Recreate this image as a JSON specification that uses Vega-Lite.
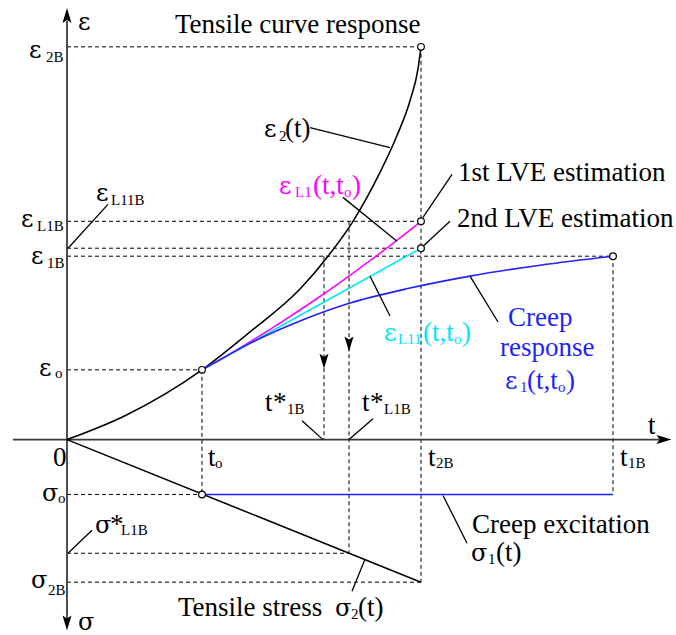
{
  "$schema": "https://vega.github.io/schema/vega-lite/v6.json",
  "width": 676,
  "height": 635,
  "autosize": {"type": "fit", "contains": "padding"},
  "padding": 0,
  "background": "white",
  "config": {"view": {"stroke": null}},
  "datasets": {
    "lines": [
      {"id": "ax-y", "part": "axis", "grp": "axis", "o": 1, "t": 0, "v": 420},
      {"id": "ax-y", "part": "axis", "grp": "axis", "o": 2, "t": 0, "v": -180},
      {"id": "ax-x", "part": "axis", "grp": "axis", "o": 1, "t": -54, "v": 0},
      {"id": "ax-x", "part": "axis", "grp": "axis", "o": 2, "t": 592, "v": 0},

      {"id": "eps2", "part": "curve", "grp": "ink", "o": 1, "t": 0, "v": 0},
      {"id": "eps2", "part": "curve", "grp": "ink", "o": 2, "t": 58, "v": 24},
      {"id": "eps2", "part": "curve", "grp": "ink", "o": 3, "t": 135, "v": 70},
      {"id": "eps2", "part": "curve", "grp": "ink", "o": 4, "t": 183, "v": 108},
      {"id": "eps2", "part": "curve", "grp": "ink", "o": 5, "t": 233, "v": 151},
      {"id": "eps2", "part": "curve", "grp": "ink", "o": 6, "t": 261, "v": 184},
      {"id": "eps2", "part": "curve", "grp": "ink", "o": 7, "t": 286, "v": 219},
      {"id": "eps2", "part": "curve", "grp": "ink", "o": 8, "t": 313, "v": 268},
      {"id": "eps2", "part": "curve", "grp": "ink", "o": 9, "t": 330, "v": 305},
      {"id": "eps2", "part": "curve", "grp": "ink", "o": 10, "t": 343, "v": 340},
      {"id": "eps2", "part": "curve", "grp": "ink", "o": 11, "t": 351, "v": 372},
      {"id": "eps2", "part": "curve", "grp": "ink", "o": 12, "t": 354, "v": 394},

      {"id": "sig2", "part": "curve", "grp": "ink", "o": 1, "t": 0, "v": 0},
      {"id": "sig2", "part": "curve", "grp": "ink", "o": 2, "t": 354, "v": -143},

      {"id": "sig1", "part": "curve", "grp": "creep", "o": 1, "t": 135, "v": -55},
      {"id": "sig1", "part": "curve", "grp": "creep", "o": 2, "t": 546, "v": -55},

      {"id": "epsL1", "part": "curve", "grp": "lve1", "o": 1, "t": 135, "v": 70},
      {"id": "epsL1", "part": "curve", "grp": "lve1", "o": 2, "t": 162.4, "v": 85.7},
      {"id": "epsL1", "part": "curve", "grp": "lve1", "o": 3, "t": 189.8, "v": 102.2},
      {"id": "epsL1", "part": "curve", "grp": "lve1", "o": 4, "t": 217.1, "v": 119.6},
      {"id": "epsL1", "part": "curve", "grp": "lve1", "o": 5, "t": 244.5, "v": 137.8},
      {"id": "epsL1", "part": "curve", "grp": "lve1", "o": 6, "t": 271.9, "v": 156.8},
      {"id": "epsL1", "part": "curve", "grp": "lve1", "o": 7, "t": 299.3, "v": 176.7},
      {"id": "epsL1", "part": "curve", "grp": "lve1", "o": 8, "t": 326.6, "v": 197.4},
      {"id": "epsL1", "part": "curve", "grp": "lve1", "o": 9, "t": 354, "v": 219},

      {"id": "epsL11", "part": "curve", "grp": "lve2", "o": 1, "t": 135, "v": 70},
      {"id": "epsL11", "part": "curve", "grp": "lve2", "o": 2, "t": 244.5, "v": 131},
      {"id": "epsL11", "part": "curve", "grp": "lve2", "o": 3, "t": 354, "v": 192},

      {"id": "eps1", "part": "curve", "grp": "creep", "o": 1, "t": 135, "v": 70},
      {"id": "eps1", "part": "curve", "grp": "creep", "o": 2, "t": 160, "v": 84},
      {"id": "eps1", "part": "curve", "grp": "creep", "o": 3, "t": 183, "v": 96.5},
      {"id": "eps1", "part": "curve", "grp": "creep", "o": 4, "t": 233, "v": 119},
      {"id": "eps1", "part": "curve", "grp": "creep", "o": 5, "t": 283, "v": 137},
      {"id": "eps1", "part": "curve", "grp": "creep", "o": 6, "t": 343, "v": 152},
      {"id": "eps1", "part": "curve", "grp": "creep", "o": 7, "t": 403, "v": 164},
      {"id": "eps1", "part": "curve", "grp": "creep", "o": 8, "t": 473, "v": 175},
      {"id": "eps1", "part": "curve", "grp": "creep", "o": 9, "t": 546, "v": 184},

      {"id": "l-e2", "part": "leader", "grp": "ink", "o": 1, "t": 243, "v": 313},
      {"id": "l-e2", "part": "leader", "grp": "ink", "o": 2, "t": 323, "v": 293},
      {"id": "l-eL1", "part": "leader", "grp": "ink", "o": 1, "t": 276, "v": 243},
      {"id": "l-eL1", "part": "leader", "grp": "ink", "o": 2, "t": 330, "v": 199},
      {"id": "l-1st", "part": "leader", "grp": "ink", "o": 1, "t": 356, "v": 223},
      {"id": "l-1st", "part": "leader", "grp": "ink", "o": 2, "t": 385, "v": 266},
      {"id": "l-2nd", "part": "leader", "grp": "ink", "o": 1, "t": 356, "v": 194},
      {"id": "l-2nd", "part": "leader", "grp": "ink", "o": 2, "t": 383, "v": 219},
      {"id": "l-eL11", "part": "leader", "grp": "ink", "o": 1, "t": 303, "v": 164},
      {"id": "l-eL11", "part": "leader", "grp": "ink", "o": 2, "t": 323, "v": 124},
      {"id": "l-creep", "part": "leader", "grp": "ink", "o": 1, "t": 403, "v": 164},
      {"id": "l-creep", "part": "leader", "grp": "ink", "o": 2, "t": 431, "v": 118},
      {"id": "l-eL11B", "part": "leader", "grp": "ink", "o": 1, "t": 1, "v": 192},
      {"id": "l-eL11B", "part": "leader", "grp": "ink", "o": 2, "t": 41, "v": 236},
      {"id": "l-sL1B", "part": "leader", "grp": "ink", "o": 1, "t": 1, "v": -114},
      {"id": "l-sL1B", "part": "leader", "grp": "ink", "o": 2, "t": 25, "v": -91},
      {"id": "l-t1B", "part": "leader", "grp": "ink", "o": 1, "t": 235, "v": 19},
      {"id": "l-t1B", "part": "leader", "grp": "ink", "o": 2, "t": 256, "v": 0},
      {"id": "l-tL1B", "part": "leader", "grp": "ink", "o": 1, "t": 282, "v": 0},
      {"id": "l-tL1B", "part": "leader", "grp": "ink", "o": 2, "t": 306, "v": 21},
      {"id": "l-exc", "part": "leader", "grp": "ink", "o": 1, "t": 376, "v": -56},
      {"id": "l-exc", "part": "leader", "grp": "ink", "o": 2, "t": 400, "v": -104},
      {"id": "l-s2", "part": "leader", "grp": "ink", "o": 1, "t": 285, "v": -152},
      {"id": "l-s2", "part": "leader", "grp": "ink", "o": 2, "t": 298, "v": -120},

      {"id": "d1", "part": "dashed", "grp": "ink", "o": 1, "t": 0, "v": 394},
      {"id": "d1", "part": "dashed", "grp": "ink", "o": 2, "t": 354, "v": 394},
      {"id": "d2", "part": "dashed", "grp": "ink", "o": 1, "t": 354, "v": 394},
      {"id": "d2", "part": "dashed", "grp": "ink", "o": 2, "t": 354, "v": -143},
      {"id": "d3", "part": "dashed", "grp": "ink", "o": 1, "t": 0, "v": 219},
      {"id": "d3", "part": "dashed", "grp": "ink", "o": 2, "t": 354, "v": 219},
      {"id": "d4", "part": "dashed", "grp": "ink", "o": 1, "t": 0, "v": 192},
      {"id": "d4", "part": "dashed", "grp": "ink", "o": 2, "t": 354, "v": 192},
      {"id": "d5", "part": "dashed", "grp": "ink", "o": 1, "t": 0, "v": 184},
      {"id": "d5", "part": "dashed", "grp": "ink", "o": 2, "t": 546, "v": 184},
      {"id": "d6", "part": "dashed", "grp": "ink", "o": 1, "t": 546, "v": 184},
      {"id": "d6", "part": "dashed", "grp": "ink", "o": 2, "t": 546, "v": -55},
      {"id": "d7", "part": "dashed", "grp": "ink", "o": 1, "t": 0, "v": 70},
      {"id": "d7", "part": "dashed", "grp": "ink", "o": 2, "t": 135, "v": 70},
      {"id": "d8", "part": "dashed", "grp": "ink", "o": 1, "t": 135, "v": 70},
      {"id": "d8", "part": "dashed", "grp": "ink", "o": 2, "t": 135, "v": -55},
      {"id": "d9", "part": "dashed", "grp": "ink", "o": 1, "t": 0, "v": -55},
      {"id": "d9", "part": "dashed", "grp": "ink", "o": 2, "t": 135, "v": -55},
      {"id": "d10", "part": "dashed", "grp": "ink", "o": 1, "t": 0, "v": -114},
      {"id": "d10", "part": "dashed", "grp": "ink", "o": 2, "t": 282, "v": -114},
      {"id": "d11", "part": "dashed", "grp": "ink", "o": 1, "t": 282, "v": 219},
      {"id": "d11", "part": "dashed", "grp": "ink", "o": 2, "t": 282, "v": -114},
      {"id": "d12", "part": "dashed", "grp": "ink", "o": 1, "t": 257, "v": 184},
      {"id": "d12", "part": "dashed", "grp": "ink", "o": 2, "t": 257, "v": 0},
      {"id": "d13", "part": "dashed", "grp": "ink", "o": 1, "t": 0, "v": -143},
      {"id": "d13", "part": "dashed", "grp": "ink", "o": 2, "t": 354, "v": -143}
    ],
    "marks": [
      {"sym": "ring", "t": 135, "v": 70},
      {"sym": "ring", "t": 354, "v": 394},
      {"sym": "ring", "t": 354, "v": 219},
      {"sym": "ring", "t": 354, "v": 192},
      {"sym": "ring", "t": 546, "v": 184},
      {"sym": "ring", "t": 135, "v": -55},
      {"sym": "up", "t": 0, "v": 425.5},
      {"sym": "down", "t": 0, "v": -184},
      {"sym": "right", "t": 597, "v": 0},
      {"sym": "tick", "t": 257, "v": 78.5},
      {"sym": "tick", "t": 282, "v": 96}
    ],
    "labels": [
      {"txt": "ε", "t": 11, "v": 411, "role": "greek", "grp": "ink"},
      {"txt": "ε", "t": -38, "v": 383, "role": "greek", "grp": "ink"},
      {"txt": "2B", "t": -21, "v": 379, "role": "sub", "grp": "ink"},
      {"txt": "Tensile curve response", "t": 108, "v": 408, "role": "main", "grp": "ink"},
      {"txt": "ε", "t": 197, "v": 304, "role": "greek", "grp": "ink"},
      {"txt": "2", "t": 212, "v": 300, "role": "sub", "grp": "ink"},
      {"txt": "(t)", "t": 218, "v": 304, "role": "main", "grp": "ink"},
      {"txt": "1st LVE estimation", "t": 391, "v": 259, "role": "main", "grp": "ink"},
      {"txt": "2nd LVE estimation", "t": 390, "v": 213, "role": "main", "grp": "ink"},
      {"txt": "ε", "t": -46, "v": 213, "role": "greek", "grp": "ink"},
      {"txt": "L1B", "t": -30, "v": 209, "role": "sub", "grp": "ink"},
      {"txt": "ε", "t": 29, "v": 239, "role": "greek", "grp": "ink"},
      {"txt": "L11B", "t": 44, "v": 235, "role": "sub", "grp": "ink"},
      {"txt": "ε", "t": -36, "v": 176, "role": "greek", "grp": "ink"},
      {"txt": "1B", "t": -20, "v": 172, "role": "sub", "grp": "ink"},
      {"txt": "ε", "t": -28, "v": 64, "role": "greek", "grp": "ink"},
      {"txt": "o", "t": -12, "v": 62, "role": "sub", "grp": "ink"},
      {"txt": "0", "t": -14, "v": -26, "role": "main", "grp": "ink"},
      {"txt": "t", "t": 141, "v": -26, "role": "main", "grp": "ink"},
      {"txt": "o", "t": 148, "v": -28, "role": "sub", "grp": "ink"},
      {"txt": "t", "t": 361, "v": -26, "role": "main", "grp": "ink"},
      {"txt": "2B", "t": 369, "v": -28, "role": "sub", "grp": "ink"},
      {"txt": "t", "t": 553, "v": -26, "role": "main", "grp": "ink"},
      {"txt": "1B", "t": 561, "v": -28, "role": "sub", "grp": "ink"},
      {"txt": "t", "t": 581, "v": 6, "role": "main", "grp": "ink"},
      {"txt": "t", "t": 198, "v": 29, "role": "main", "grp": "ink"},
      {"txt": "*", "t": 206, "v": 29, "role": "main", "grp": "ink"},
      {"txt": "1B", "t": 220, "v": 26, "role": "sub", "grp": "ink"},
      {"txt": "t", "t": 295, "v": 29, "role": "main", "grp": "ink"},
      {"txt": "*", "t": 303, "v": 29, "role": "main", "grp": "ink"},
      {"txt": "L1B", "t": 317, "v": 26, "role": "sub", "grp": "ink"},
      {"txt": "σ", "t": -25, "v": -62, "role": "greek", "grp": "ink"},
      {"txt": "o", "t": -9, "v": -64, "role": "sub", "grp": "ink"},
      {"txt": "σ", "t": 28, "v": -94, "role": "greek", "grp": "ink"},
      {"txt": "*", "t": 43, "v": -94, "role": "main", "grp": "ink"},
      {"txt": "L1B", "t": 54, "v": -96, "role": "sub", "grp": "ink"},
      {"txt": "σ", "t": -36, "v": -149, "role": "greek", "grp": "ink"},
      {"txt": "2B", "t": -19, "v": -156, "role": "sub", "grp": "ink"},
      {"txt": "σ", "t": 11, "v": -191, "role": "greek", "grp": "ink"},
      {"txt": "Tensile stress", "t": 111, "v": -177, "role": "main", "grp": "ink"},
      {"txt": "σ", "t": 268, "v": -177, "role": "greek", "grp": "ink"},
      {"txt": "2", "t": 284, "v": -180, "role": "sub", "grp": "ink"},
      {"txt": "(t)", "t": 291, "v": -177, "role": "main", "grp": "ink"},
      {"txt": "Creep excitation", "t": 405, "v": -94, "role": "main", "grp": "ink"},
      {"txt": "σ", "t": 404, "v": -122, "role": "greek", "grp": "ink"},
      {"txt": "1", "t": 421, "v": -125, "role": "sub", "grp": "ink"},
      {"txt": "(t)", "t": 429, "v": -122, "role": "main", "grp": "ink"},
      {"txt": "ε", "t": 212, "v": 246, "role": "greek", "grp": "lve1"},
      {"txt": "L1", "t": 228, "v": 243, "role": "sub", "grp": "lve1"},
      {"txt": "(t,t", "t": 246, "v": 246, "role": "main", "grp": "lve1"},
      {"txt": "o", "t": 277, "v": 243, "role": "sub", "grp": "lve1"},
      {"txt": ")", "t": 285, "v": 246, "role": "main", "grp": "lve1"},
      {"txt": "ε", "t": 317, "v": 99, "role": "greek", "grp": "lve2"},
      {"txt": "L11", "t": 331, "v": 96, "role": "sub", "grp": "lve2"},
      {"txt": "(t,t", "t": 356, "v": 99, "role": "main", "grp": "lve2"},
      {"txt": "o", "t": 387, "v": 96, "role": "sub", "grp": "lve2"},
      {"txt": ")", "t": 395, "v": 99, "role": "main", "grp": "lve2"},
      {"txt": "Creep", "t": 441, "v": 114, "role": "main", "grp": "creep"},
      {"txt": "response", "t": 433, "v": 84, "role": "main", "grp": "creep"},
      {"txt": "ε", "t": 438, "v": 51, "role": "greek", "grp": "creep"},
      {"txt": "1", "t": 453, "v": 48, "role": "sub", "grp": "creep"},
      {"txt": "(t,t", "t": 460, "v": 51, "role": "main", "grp": "creep"},
      {"txt": "o", "t": 491, "v": 48, "role": "sub", "grp": "creep"},
      {"txt": ")", "t": 499, "v": 51, "role": "main", "grp": "creep"}
    ]
  },
  "encoding": {
    "x": {"field": "t", "type": "quantitative", "scale": {"domain": [-67, 609], "nice": false, "zero": false}, "axis": null},
    "y": {"field": "v", "type": "quantitative", "scale": {"domain": [-194, 441], "nice": false, "zero": false}, "axis": null}
  },
  "layer": [
    {
      "data": {"name": "lines"},
      "transform": [{"filter": "datum.part == 'dashed'"}],
      "mark": {"type": "line", "color": "#000000", "strokeWidth": 1, "strokeDash": [4, 3]},
      "encoding": {
        "detail": {"field": "id", "type": "nominal"},
        "order": {"field": "o", "type": "quantitative"}
      }
    },
    {
      "data": {"name": "lines"},
      "transform": [{"filter": "datum.part != 'dashed'"}],
      "mark": {"type": "line", "interpolate": "monotone"},
      "encoding": {
        "detail": {"field": "id", "type": "nominal"},
        "order": {"field": "o", "type": "quantitative"},
        "color": {"field": "grp", "type": "nominal", "legend": null,
          "scale": {"domain": ["axis", "ink", "lve1", "lve2", "creep"], "range": ["#3a3a3a", "#000000", "#ff00ff", "#00e5ff", "#1f1fff"]}},
        "strokeWidth": {"field": "part", "type": "nominal", "legend": null,
          "scale": {"domain": ["axis", "curve", "leader"], "range": [1.8, 1.3, 0.9]}}
      }
    },
    {
      "data": {"name": "marks"},
      "transform": [{"filter": "datum.sym == 'ring'"}],
      "mark": {"type": "point", "shape": "circle", "filled": true, "fill": "white", "stroke": "#000000", "strokeWidth": 1.2, "size": 45, "opacity": 1}
    },
    {
      "data": {"name": "marks"},
      "transform": [{"filter": "datum.sym != 'ring'"}],
      "mark": {"type": "point", "filled": true, "color": "#000000", "opacity": 1},
      "encoding": {
        "shape": {"field": "sym", "type": "nominal", "legend": null,
          "scale": {"domain": ["up", "down", "right", "tick"],
            "range": ["M0,-1L-0.6,1L0,0.6L0.6,1Z", "M0,1L-0.6,-1L0,-0.6L0.6,-1Z", "M1,0L-1,-0.6L-0.6,0L-1,0.6Z", "M0,1L-0.6,-1L0,-0.6L0.6,-1Z"]}},
        "size": {"field": "sym", "type": "nominal", "legend": null,
          "scale": {"domain": ["up", "down", "right", "tick"], "range": [225, 225, 225, 121]}}
      }
    },
    {
      "data": {"name": "labels"},
      "transform": [{"filter": "datum.role == 'main'"}],
      "mark": {"type": "text", "align": "left", "baseline": "alphabetic", "font": "Liberation Serif", "fontSize": 27},
      "encoding": {
        "text": {"field": "txt", "type": "nominal"},
        "color": {"field": "grp", "type": "nominal", "legend": null,
          "scale": {"domain": ["axis", "ink", "lve1", "lve2", "creep"], "range": ["#3a3a3a", "#000000", "#ff00ff", "#00e5ff", "#1f1fff"]}}
      }
    },
    {
      "data": {"name": "labels"},
      "transform": [{"filter": "datum.role == 'greek'"}],
      "mark": {"type": "text", "align": "left", "baseline": "alphabetic", "font": "DejaVu Serif", "fontSize": 24},
      "encoding": {
        "text": {"field": "txt", "type": "nominal"},
        "color": {"field": "grp", "type": "nominal", "legend": null,
          "scale": {"domain": ["axis", "ink", "lve1", "lve2", "creep"], "range": ["#3a3a3a", "#000000", "#ff00ff", "#00e5ff", "#1f1fff"]}}
      }
    },
    {
      "data": {"name": "labels"},
      "transform": [{"filter": "datum.role == 'sub'"}],
      "mark": {"type": "text", "align": "left", "baseline": "alphabetic", "font": "Liberation Serif", "fontSize": 15},
      "encoding": {
        "text": {"field": "txt", "type": "nominal"},
        "color": {"field": "grp", "type": "nominal", "legend": null,
          "scale": {"domain": ["axis", "ink", "lve1", "lve2", "creep"], "range": ["#3a3a3a", "#000000", "#ff00ff", "#00e5ff", "#1f1fff"]}}
      }
    }
  ]
}
